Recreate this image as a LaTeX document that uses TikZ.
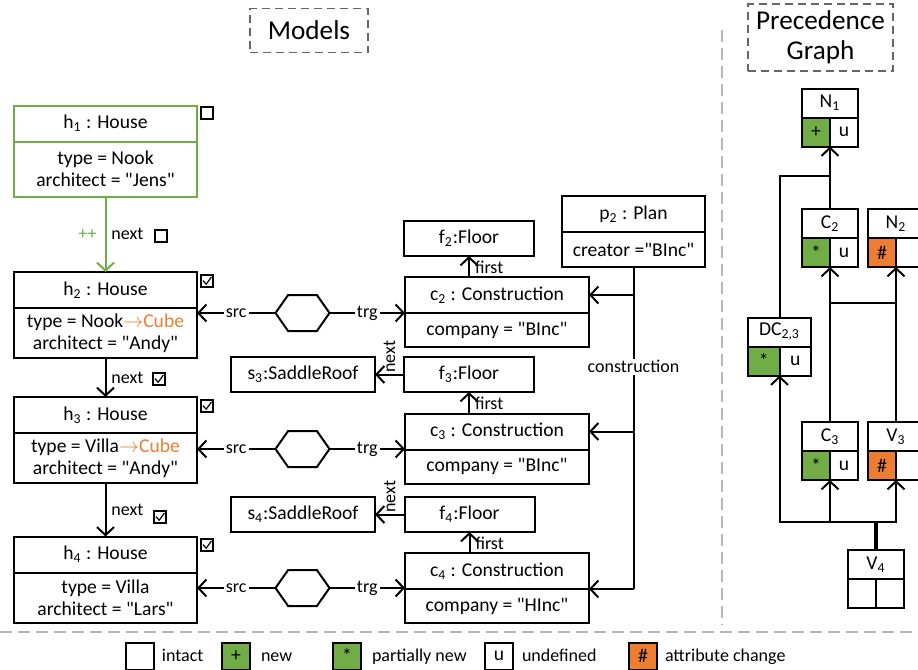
\documentclass[tikz,border=0pt]{standalone}
\usepackage{fontspec}
\setmainfont{Carlito}
\usetikzlibrary{positioning,arrows.meta,shapes.symbols,calc}

\definecolor{newgreen}{HTML}{70AD47}
\definecolor{chgorange}{HTML}{ED7D31}
\definecolor{sepgray}{gray}{0.72}
\definecolor{titlegray}{gray}{0.4}

\newcommand{\quoted}[1]{\textquotedbl#1\textquotedbl}

\tikzset{
	every node/.style={font=\fontsize{9.8}{11}\selectfont, outer sep=0pt},
	smalltext/.style={font=\fontsize{9}{10.5}\selectfont},
	obj/.style={draw, line width=1pt, inner sep=1pt, align=center},
	hhead/.style={obj, minimum width=91.5pt, minimum height=18pt},
	hbody/.style={obj, minimum width=91.5pt, minimum height=25pt},
	chead/.style={obj, minimum width=92pt, minimum height=18pt},
	cbody/.style={obj, minimum width=92pt, minimum height=17pt},
	floorbox/.style={obj, minimum width=65pt, minimum height=17.5pt},
	roofbox/.style={obj, minimum width=72pt, minimum height=17.5pt},
	linkhex/.style={draw, line width=1pt, signal, signal to=east and west,
		signal pointer angle=110, minimum width=27pt, minimum height=18pt, inner sep=0pt},
	lbl/.style={smalltext, fill=white, inner sep=1pt},
	elbl/.style={smalltext, inner sep=1pt},
	cbox/.style={draw, line width=0.7pt, minimum size=6pt, inner sep=0pt},
	cboxon/.style={cbox, path picture={
		\draw[line width=0.6pt] ($(path picture bounding box.south west)+(1pt,3.2pt)$)
		-- ++(1.6pt,-1.8pt) -- ++(2.6pt,3.6pt);}},
	pghead/.style={obj, minimum width=28pt, minimum height=14.5pt},
	pgcell/.style={obj, minimum width=14pt, minimum height=14.5pt},
	legbox/.style={obj, minimum width=14pt, minimum height=13.5pt},
	legtext/.style={smalltext, inner sep=1pt, text height=1.6ex, text depth=0.5ex},
	conn/.style={line width=1pt},
	edge/.style={conn, -{Straight Barb[length=4pt,width=8.5pt]}},
	sepline/.style={draw=sepgray, line width=0.8pt, dash pattern=on 6pt off 3pt},
	titlebox/.style={draw=titlegray, line width=0.8pt, dash pattern=on 4pt off 2.5pt,
		align=center, font=\fontsize{13.6}{15}\selectfont},
}

\begin{document}
\begin{tikzpicture}[x=0.5pt, y=-0.5pt]
	
	\useasboundingbox (0,0) rectangle (918,670);
	\clip (0,0) rectangle (918,670);
	
	% Titles
	\node [titlebox, minimum width=59pt, minimum height=22pt] (models) at (309,30.5) {Models};
	\node [titlebox, minimum width=72.5pt, minimum height=28.5pt] (pgtitle) at (820.5,37.5) {Precedence\\Graph};
	
	% Separators
	\draw [sepline] (722,30) -- (722,625);
	\draw [sepline] (0,632) -- (918,632);
	
	% Houses
	\node [hhead, draw=newgreen] (h1) at (105.5,123.5) {h\textsubscript{1} : House};
	\node [hbody, draw=newgreen, minimum height=27.5pt, below=0pt of h1] (h1a) {type = Nook\\architect = \quoted{Jens}};
	\node [hhead] (h2) at (105.5,290) {h\textsubscript{2} : House};
	\node [hbody, below=0pt of h2] (h2a) {type = Nook\textcolor{chgorange}{$\rightarrow$Cube}\\architect = \quoted{Andy}};
	\node [hhead] (h3) at (105.5,415) {h\textsubscript{3} : House};
	\node [hbody, below=0pt of h3] (h3a) {type = Villa\textcolor{chgorange}{$\rightarrow$Cube}\\architect = \quoted{Andy}};
	\node [hhead] (h4) at (105.5,554.5) {h\textsubscript{4} : House};
	\node [hbody, below=0pt of h4] (h4a) {type = Villa\\architect = \quoted{Lars}};
	
	% Check boxes
	\node [cbox] (k1) at (207,113) {};
	\node [cboxon] (k2) at (207,281) {};
	\node [cboxon] (k3) at (207,406) {};
	\node [cboxon] (k4) at (207,545) {};
	
	% next edges between houses
	\draw [edge, newgreen] (h1a) -- node [elbl, right=2pt, text=black] (n1) {next}
	node [elbl, left=3.5pt, text=newgreen] (pp1) {++} (h2);
	\draw [edge] (h2a) -- node [elbl, right=2pt] (n2) {next} (h3);
	\draw [edge] (h3a) -- node [elbl, right=2pt] (n3) {next} (h4);
	\node [cbox] (kn1) at (161,236) {};
	\node [cboxon] (kn2) at (159,379) {};
	\node [cboxon] (kn3) at (160,517) {};
	
	% Constructions
	\node [chead] (c2) at (497,295) {c\textsubscript{2} : Construction};
	\node [cbody, below=0pt of c2] (c2a) {company = \quoted{BInc}};
	\node [chead] (c3) at (497,431.5) {c\textsubscript{3} : Construction};
	\node [cbody, below=0pt of c3] (c3a) {company = \quoted{BInc}};
	\node [chead] (c4) at (497,571) {c\textsubscript{4} : Construction};
	\node [cbody, below=0pt of c4] (c4a) {company = \quoted{HInc}};
	
	% Floors and roofs
	\node [floorbox] (f2) at (469,238.5) {f\textsubscript{2}:Floor};
	\node [floorbox] (f3) at (469,374.5) {f\textsubscript{3}:Floor};
	\node [floorbox] (f4) at (469.5,514.5) {f\textsubscript{4}:Floor};
	\node [roofbox] (s3) at (303,374.5) {s\textsubscript{3}:SaddleRoof};
	\node [roofbox] (s4) at (303,514.5) {s\textsubscript{4}:SaddleRoof};
	
	% Plan
	\node [chead, minimum width=71.5pt] (p2) at (633.5,214) {p\textsubscript{2} : Plan};
	\node [cbody, minimum width=71.5pt, minimum height=17.5pt, below=0pt of p2] (p2a) {creator =\quoted{BInc}};
	
	% Correspondence links
	\node [linkhex] (l2) at (302.5,313) {};
	\node [linkhex] (l3) at (302.5,449) {};
	\node [linkhex] (l4) at (302.5,588) {};
	
	\draw [edge] (l2) -- node [lbl] (src2) {src} (l2 -| h2.east);
	\draw [edge] (l2) -- node [lbl] (trg2) {trg} (l2 -| c2.west);
	\draw [edge] (l3) -- node [lbl] (src3) {src} (l3 -| h3.east);
	\draw [edge] (l3) -- node [lbl] (trg3) {trg} (l3 -| c3.west);
	\draw [edge] (l4) -- node [lbl] (src4) {src} (l4 -| h4.east);
	\draw [edge] (l4) -- node [lbl] (trg4) {trg} (l4 -| c4.west);
	
	% first / next
	\draw [edge] (f2.south |- c2.north) -- node [elbl, right=2pt, pos=0.45] (fs2) {first} (f2.south);
	\draw [edge] (f3.south |- c3.north) -- node [elbl, right=2pt, pos=0.45] (fs3) {first} (f3.south);
	\draw [edge] (f4.south |- c4.north) -- node [elbl, right=2pt, pos=0.45] (fs4) {first} (f4.south);
	\draw [edge] (f3) -- node [elbl, rotate=90, anchor=west] (nx3) {next} (s3);
	\draw [edge] (f4) -- node [elbl, rotate=90, anchor=west] (nx4) {next} (s4);
	
	% construction edges
	\draw [conn] (p2a.south) -- node [lbl, pos=0.31] (cn) {construction} (p2a.south |- c4.south);
	\draw [edge] (p2a.south |- c2) -- (c2.east);
	\draw [edge] (p2a.south |- c3) -- (c3.east);
	\draw [edge] (p2a.south |- c4.south) -- (c4.south east);
	
	% Precedence graph
	\node [pghead] (N1) at (830,103) {N\textsubscript{1}};
	\node [pgcell, fill=newgreen, anchor=north west] (N1a) at (N1.south west) {+};
	\node [pgcell, anchor=north east] (N1b) at (N1.south east) {u};
	
	\node [pghead] (C2) at (830,223.5) {C\textsubscript{2}};
	\node [pgcell, fill=newgreen, anchor=north west] (C2a) at (C2.south west) {*};
	\node [pgcell, anchor=north east] (C2b) at (C2.south east) {u};
	
	\node [pghead] (N2) at (896,223.5) {N\textsubscript{2}};
	\node [pgcell, fill=chgorange, anchor=north west] (N2a) at (N2.south west) {\#};
	\node [pgcell, anchor=north east] (N2b) at (N2.south east) {};
	
	\node [pghead, minimum width=31.5pt] (DC) at (779.5,332) {DC\textsubscript{2,3}};
	\node [pgcell, minimum width=15.75pt, fill=newgreen, anchor=north west] (DCa) at (DC.south west) {*};
	\node [pgcell, minimum width=15.75pt, anchor=north east] (DCb) at (DC.south east) {u};
	
	\node [pghead] (C3) at (830,436.5) {C\textsubscript{3}};
	\node [pgcell, fill=newgreen, anchor=north west] (C3a) at (C3.south west) {*};
	\node [pgcell, anchor=north east] (C3b) at (C3.south east) {u};
	
	\node [pghead] (V3) at (896,436.5) {V\textsubscript{3}};
	\node [pgcell, fill=chgorange, anchor=north west] (V3a) at (V3.south west) {\#};
	\node [pgcell, anchor=north east] (V3b) at (V3.south east) {};
	
	\node [pghead] (V4) at (876,564.5) {V\textsubscript{4}};
	\node [pgcell, anchor=north west] (V4a) at (V4.south west) {};
	\node [pgcell, anchor=north east] (V4b) at (V4.south east) {};
	
	\draw [edge] (C2) -- (N1a.south east);
	\coordinate (j1) at ($(N1a.south east)!0.47!(C2.north)$);
	\draw [conn] (DC) |- (j1);
	\draw [edge] (C3) -- (C2a.south east);
	\draw [edge] (V3) -- (N2a.south east);
	\coordinate (j2) at ($(C2a.south east)!0.23!(C3.north)$);
	\draw [conn] (j2) -- (j2 -| V3);
	\coordinate (j4) at ($(V4.north)!0.4!(V4.north |- C3a.south)$);
	\draw [conn, line width=1.6pt] (V4) -- (j4);
	\draw [edge] (j4) -| (DCa.south east);
	\draw [edge] (j4) -| (C3a.south east);
	\draw [edge] (j4) -| (V3a.south east);
	
	% Legend
	\node [legbox] (lg1) at (140,656) {};
	\node [legtext, right=3pt of lg1] (lt1) {intact};
	\node [legbox, fill=newgreen] (lg2) at (236,656) {+};
	\node [legtext, right=4.5pt of lg2] (lt2) {new};
	\node [legbox, fill=newgreen] (lg3) at (347,656) {*};
	\node [legtext, right=4.5pt of lg3] (lt3) {partially new};
	\node [legbox] (lg4) at (499,656) {u};
	\node [legtext, right=3.5pt of lg4] (lt4) {undefined};
	\node [legbox, fill=chgorange] (lg5) at (643,656) {\#};
	\node [legtext, right=3pt of lg5] (lt5) {attribute change};
	
\end{tikzpicture}
\end{document}
